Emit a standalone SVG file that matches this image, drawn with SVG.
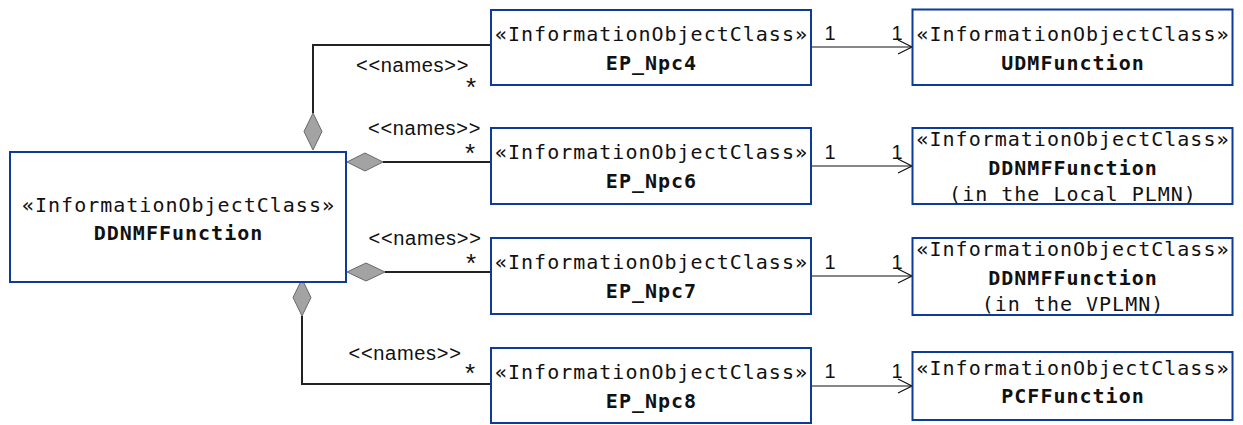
<svg xmlns="http://www.w3.org/2000/svg" width="1243" height="425" viewBox="0 0 1243 425">
<style>
.box{fill:#fff;stroke:#0b3c9a;stroke-width:2}
.t{font-family:"DejaVu Sans Mono",monospace;font-size:20px;letter-spacing:1px;text-anchor:middle;fill:#111}
.b{font-weight:bold}
.agg{fill:none;stroke:#222;stroke-width:2}
.dia{fill:#a3a3a3;stroke:#6a6a6a;stroke-width:1}
.arr{fill:none;stroke:#111;stroke-width:1.2}
.lbl{font-family:"Liberation Sans",Arial,sans-serif;font-size:20px;letter-spacing:0.7px;fill:#111}
.m{font-family:"Liberation Sans",Arial,sans-serif;font-size:20px;fill:#111;text-anchor:middle}
.s{font-family:"Liberation Sans",Arial,sans-serif;font-size:26px;fill:#111;text-anchor:middle}
</style>
<g id="connectors">
  <polyline class="agg" points="313,113 313,45 491,45"/>
  <polygon class="dia" points="313,113 322,131.5 313,150 304,131.5"/>
  <line class="agg" x1="383" y1="162" x2="491" y2="162"/>
  <polygon class="dia" points="347,162 365,153 383,162 365,171"/>
  <line class="agg" x1="385" y1="272" x2="491" y2="272"/>
  <polygon class="dia" points="347,272 366,263 385,272 366,281"/>
  <polyline class="agg" points="302,316 302,384 491,384"/>
  <polygon class="dia" points="302,279 311,297.5 302,316 293,297.5"/>
  <text class="lbl" x="356" y="72">&lt;&lt;names&gt;&gt;</text>
  <text class="s" x="471" y="96">*</text>
  <text class="lbl" x="368" y="135">&lt;&lt;names&gt;&gt;</text>
  <text class="s" x="470" y="162">*</text>
  <text class="lbl" x="368.5" y="245">&lt;&lt;names&gt;&gt;</text>
  <text class="s" x="471" y="272">*</text>
  <text class="lbl" x="348.5" y="360">&lt;&lt;names&gt;&gt;</text>
  <text class="s" x="470" y="382">*</text>
  <line class="arr" x1="811" y1="47" x2="912" y2="47"/>
  <polyline class="arr" points="898,40 912,47 898,54"/>
  <text class="m" x="830" y="40">1</text>
  <text class="m" x="897" y="40">1</text>
  <line class="arr" x1="811" y1="166" x2="912" y2="166"/>
  <polyline class="arr" points="898,159 912,166 898,173"/>
  <text class="m" x="830" y="159">1</text>
  <text class="m" x="897" y="159">1</text>
  <line class="arr" x1="811" y1="276" x2="912" y2="276"/>
  <polyline class="arr" points="898,269 912,276 898,283"/>
  <text class="m" x="830" y="269">1</text>
  <text class="m" x="897" y="269">1</text>
  <line class="arr" x1="811" y1="386" x2="912" y2="386"/>
  <polyline class="arr" points="898,379 912,386 898,393"/>
  <text class="m" x="830" y="378">1</text>
  <text class="m" x="897" y="378">1</text>
</g>
<g id="DDNMFFunction">
  <rect class="box" x="10" y="152" width="336" height="130"/>
  <text class="t" x="178.5" y="212">«InformationObjectClass»</text>
  <text class="t b" x="178.5" y="240">DDNMFFunction</text>
</g>
<g id="EP_Npc4">
  <rect class="box" x="491" y="10" width="320" height="75"/>
  <text class="t" x="651.5" y="41">«InformationObjectClass»</text>
  <text class="t b" x="651.5" y="70">EP_Npc4</text>
</g>
<g id="EP_Npc6">
  <rect class="box" x="491" y="128" width="320" height="76"/>
  <text class="t" x="651.5" y="159">«InformationObjectClass»</text>
  <text class="t b" x="651.5" y="188">EP_Npc6</text>
</g>
<g id="EP_Npc7">
  <rect class="box" x="491" y="238" width="320" height="76"/>
  <text class="t" x="651.5" y="269">«InformationObjectClass»</text>
  <text class="t b" x="651.5" y="298">EP_Npc7</text>
</g>
<g id="EP_Npc8">
  <rect class="box" x="491" y="348" width="320" height="75"/>
  <text class="t" x="651.5" y="379">«InformationObjectClass»</text>
  <text class="t b" x="651.5" y="408">EP_Npc8</text>
</g>
<g id="UDMFunction">
  <rect class="box" x="912.5" y="9.5" width="320" height="75.5"/>
  <text class="t" x="1073" y="41">«InformationObjectClass»</text>
  <text class="t b" x="1073" y="70">UDMFunction</text>
</g>
<g id="DDNMFFunction_Local">
  <rect class="box" x="912.5" y="128" width="320" height="76"/>
  <text class="t" x="1073" y="146">«InformationObjectClass»</text>
  <text class="t b" x="1073" y="175">DDNMFFunction</text>
  <text class="t" x="1073" y="201">(in the Local PLMN)</text>
</g>
<g id="DDNMFFunction_VPLMN">
  <rect class="box" x="912.5" y="238" width="320" height="77"/>
  <text class="t" x="1073" y="256">«InformationObjectClass»</text>
  <text class="t b" x="1073" y="285">DDNMFFunction</text>
  <text class="t" x="1073" y="311">(in the VPLMN)</text>
</g>
<g id="PCFFunction">
  <rect class="box" x="912.5" y="352" width="320" height="68"/>
  <text class="t" x="1073" y="375">«InformationObjectClass»</text>
  <text class="t b" x="1073" y="403">PCFFunction</text>
</g>
</svg>
